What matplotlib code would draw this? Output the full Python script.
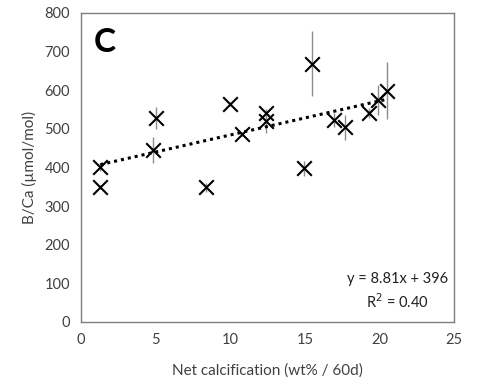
import numpy as np
import matplotlib
matplotlib.use('Agg')
import matplotlib.pyplot as plt

plt.rcParams['font.family'] = ['Lato', 'DejaVu Sans']

# net calcification (wt% / 60d) and B/Ca (umol/mol) with error
calc = [1.3, 1.3, 4.8, 5.0, 8.4, 10.0, 10.8, 12.4, 12.4, 14.95, 15.5, 16.96, 17.7, 19.3, 19.9, 20.5]
bca = [350, 401, 446, 528, 349, 564, 486, 542, 519, 398, 668, 523, 504, 541, 575, 599]
bca_err = [5, 10, 34, 29, 12, 5, 5, 10, 30, 19, 84, 18, 32, 12, 38, 73]

slope, intercept = 8.81, 396

fig = plt.figure(figsize=(4.82, 3.92), dpi=100)
ax = fig.add_axes([0.168, 0.1786, 0.774, 0.7884])

ax.errorbar(calc, bca, yerr=bca_err, fmt='none', ecolor='#8c8c8c', elinewidth=1, capsize=0, zorder=1)
ax.scatter(calc, bca, marker='x', s=110, color='black', linewidths=1.5, zorder=3)

xfit = np.array([min(calc), max(calc)])
ax.plot(xfit, slope * xfit + intercept, color='black', linestyle=(0, (1, 1.3)), linewidth=2.2, zorder=2)

ax.set_xlim(0, 25)
ax.set_ylim(0, 800)
ax.set_xticks(np.arange(0, 26, 5))
ax.set_yticks(np.arange(0, 801, 100))
ax.tick_params(length=0, labelsize=10.5, colors='#404040', pad=8)
for s in ax.spines.values():
    s.set_color('#7f7f7f')
    s.set_linewidth(1)

ax.set_xlabel('Net calcification (wt% / 60d)', fontsize=11, color='#404040')
ax.set_ylabel('B/Ca (µmol/mol)', fontsize=11, color='#404040')
ax.xaxis.set_label_coords(0.5, -0.135)
ax.yaxis.set_label_coords(-0.118, 0.5)

ax.text(0.035, 0.905, 'C', transform=ax.transAxes, fontsize=24, fontweight='bold', va='center', ha='left')
ax.text(21.2, 78, 'y = 8.81x + 396\nR$^2$ = 0.40', ha='center', va='center', fontsize=10.5,
        color='#202020', linespacing=1.4)

plt.savefig('out.png', dpi=100)
